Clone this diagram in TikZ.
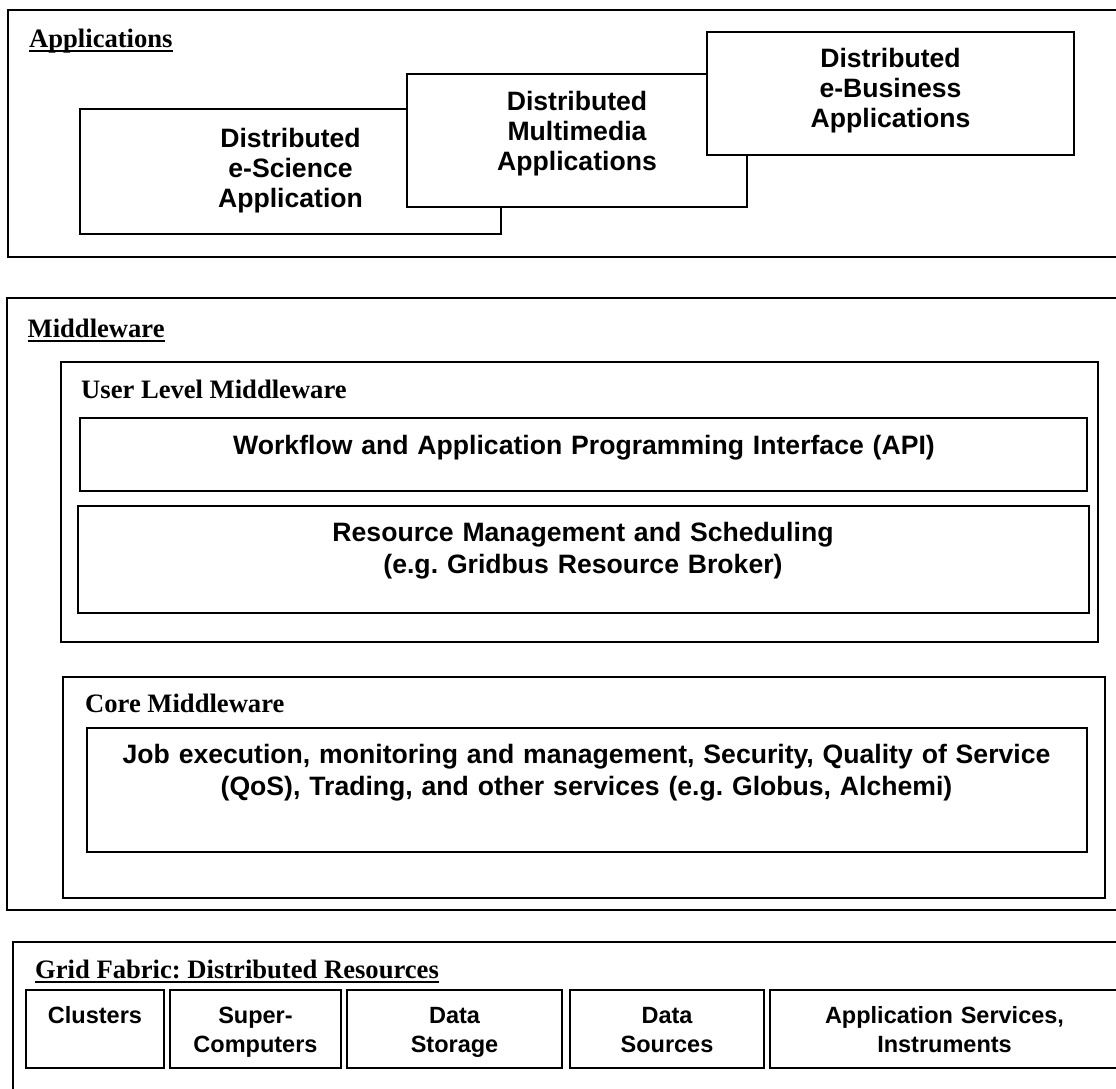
\documentclass[tikz,border=0pt]{standalone}
\usepackage{fontspec}
\setmainfont{Liberation Serif}
\setsansfont{Liberation Sans}
\frenchspacing
\begin{document}
\begin{tikzpicture}[x=1pt,y=-1pt,
  outerframe/.style={draw=black, line width=2.2pt, fill=white, rectangle,
    inner sep=0pt, outer sep=0pt, anchor=north west},
  layerbox/.style={draw=black, line width=2pt, fill=white, rectangle,
    inner sep=0pt, outer sep=0pt, anchor=north west},
  heading/.style={font=\rmfamily\bfseries\fontsize{26.6}{30}\selectfont,
    anchor=base west, inner sep=0pt},
  boxtext/.style={font=\sffamily\bfseries\fontsize{26.6}{30}\selectfont,
    anchor=base, inner sep=0pt, text width=1000pt, align=center},
  widetext/.style={boxtext, font=\sffamily\bfseries\fontsize{26.6}{32}\selectfont},
  smalltext/.style={boxtext, text width=400pt,
    font=\sffamily\bfseries\fontsize{23.5}{29}\selectfont},
  rule/.style={line width=2pt}
]
\fill[white] (0,0) rectangle (1116,1088);
\useasboundingbox (0,0) rectangle (1116,1088);

% ---------------- Applications layer ----------------
\node[outerframe, minimum width=1120pt, minimum height=247pt] (apps) at (8,10) {};
\node[heading] (appsT) at (29,47) {Applications};
\draw[rule] ([yshift=-4pt]appsT.base west) -- ([yshift=-4pt]appsT.base east);

\node[layerbox, minimum width=421pt, minimum height=125pt] (esci) at (80,109) {};
\node[boxtext] (esciT) at (290.5,147) {Distributed\\e-Science\\Application};
\node[layerbox, minimum width=340pt, minimum height=133pt] (mmed) at (407,74) {};
\node[boxtext] (mmedT) at (577,110) {Distributed\\Multimedia\\Applications};
\node[layerbox, minimum width=367pt, minimum height=123pt] (ebiz) at (707,32) {};
\node[boxtext] (ebizT) at (890.5,67.5) {Distributed\\e-Business\\Applications};

% ---------------- Middleware layer ----------------
\node[outerframe, minimum width=1120pt, minimum height=612pt] (mw) at (7,298) {};
\node[heading] (mwT) at (27.5,337) {Middleware};
\draw[rule] ([yshift=-4pt]mwT.base west) -- ([yshift=-4pt]mwT.base east);

\node[layerbox, minimum width=1037pt, minimum height=280pt] (user) at (61,362) {};
\node[heading] (userT) at (81,398) {User Level Middleware};
\node[layerbox, minimum width=1007pt, minimum height=73pt] (api) at (80,418) {};
\node[boxtext] (apiT) at (584,454) {Workflow and Application Programming Interface (API)};
\node[layerbox, minimum width=1011pt, minimum height=107pt] (rms) at (78,506) {};
\node[widetext] (rmsT) at (583,541) {Resource Management and Scheduling\\(e.g. Gridbus Resource Broker)};

\node[layerbox, minimum width=1042pt, minimum height=221pt] (core) at (63,677) {};
\node[heading] (coreT) at (85,712) {Core Middleware};
\node[layerbox, minimum width=1000pt, minimum height=124pt] (svc) at (87,728) {};
\node[widetext] (svcT) at (586.5,763) {Job execution, monitoring and management, Security, Quality of Service\\(QoS), Trading, and other services (e.g. Globus, Alchemi)};

% ---------------- Grid fabric layer ----------------
\node[outerframe, minimum width=1120pt, minimum height=160pt] (fab) at (13,942) {};
\node[heading] (fabT) at (35,978) {Grid Fabric: Distributed Resources};
\draw[rule] ([yshift=-4pt]fabT.base west) -- ([yshift=-4pt]fabT.base east);

\node[layerbox, minimum width=138pt, minimum height=78pt] (clu) at (26,990) {};
\node[smalltext] (cluT) at (95,1023) {Clusters};
\node[layerbox, minimum width=171pt, minimum height=78pt] (sup) at (170,990) {};
\node[smalltext] (supT) at (255.5,1023) {Super-\\Computers};
\node[layerbox, minimum width=215pt, minimum height=78pt] (sto) at (347,990) {};
\node[smalltext] (stoT) at (454.5,1023) {Data\\Storage};
\node[layerbox, minimum width=194pt, minimum height=78pt] (src) at (570,990) {};
\node[smalltext] (srcT) at (667,1023) {Data\\Sources};
\node[layerbox, minimum width=350pt, minimum height=78pt] (ins) at (770,990) {};
\node[smalltext] (insT) at (944.5,1023) {Application Services,\\Instruments};
\end{tikzpicture}
\end{document}
